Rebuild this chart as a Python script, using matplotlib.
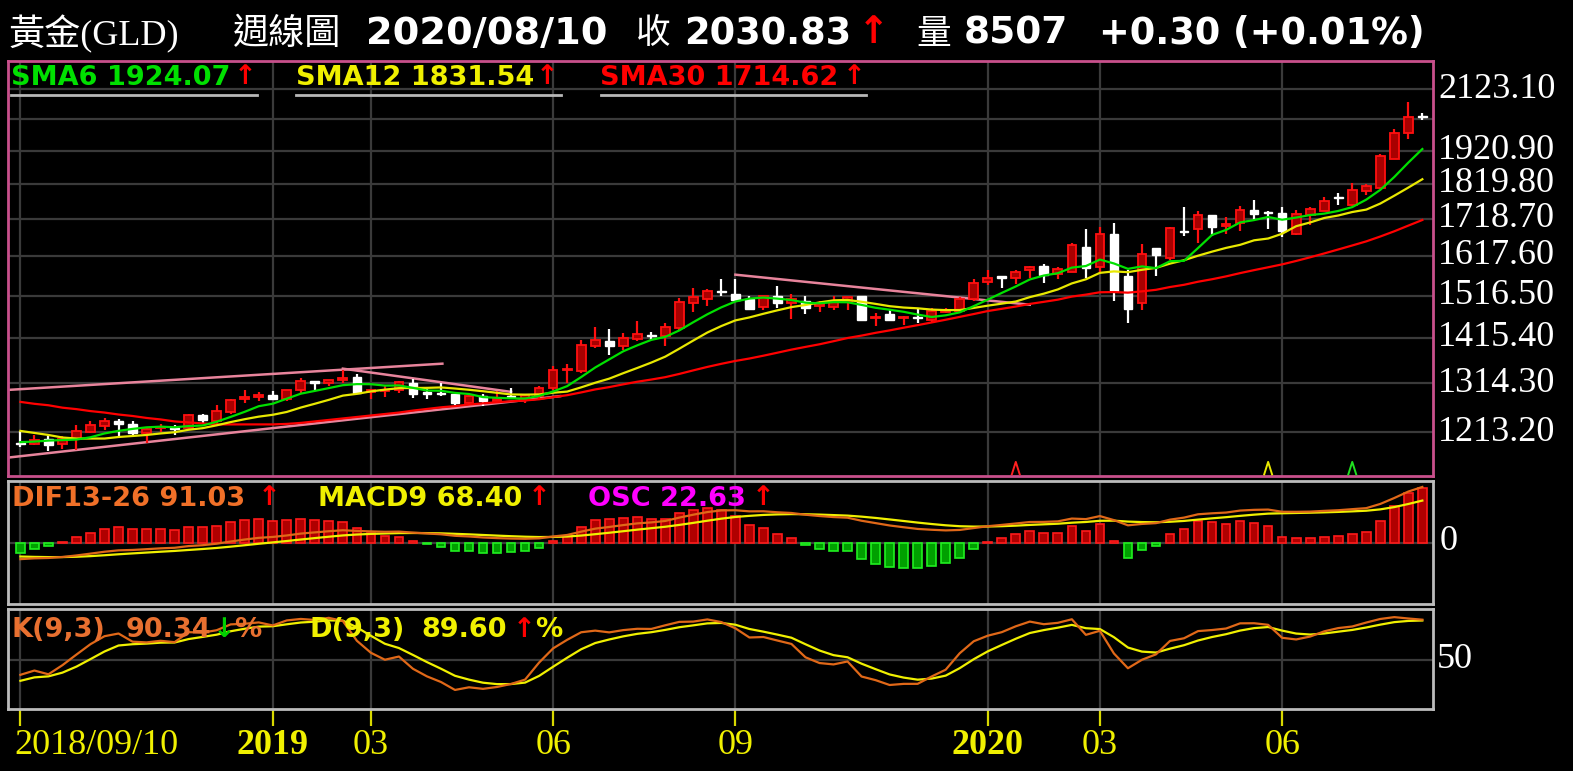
import numpy as np
import pandas as pd
import matplotlib
matplotlib.use("Agg")
import matplotlib.pyplot as plt
from matplotlib.lines import Line2D
from matplotlib.ticker import NullLocator
from matplotlib.transforms import blended_transform_factory as blend

plt.rcParams['font.family'] = ['DejaVu Sans', 'Noto Sans CJK TC']

# ---------------- data (weekly candles, 2018/09/10 .. 2020/08/10) ----------------
opens = [1193, 1191, 1201, 1191, 1201, 1214, 1225, 1235, 1230, 1211,
         1221, 1222, 1221, 1249, 1235, 1255, 1282, 1285, 1289, 1280,
         1301, 1319, 1314, 1322, 1327, 1296, 1297, 1300, 1315, 1295,
         1294, 1291, 1272, 1287, 1277, 1288, 1280, 1287, 1305, 1342,
         1341, 1397, 1409, 1397, 1412, 1423, 1420, 1438, 1497, 1509,
         1529, 1521, 1507, 1489, 1516, 1499, 1502, 1492, 1489, 1502,
         1516, 1462, 1472, 1462, 1465, 1458, 1476, 1478, 1508, 1550,
         1565, 1560, 1582, 1592, 1571, 1577, 1642, 1590, 1676, 1565,
         1499, 1638, 1613, 1686, 1689, 1730, 1700, 1708, 1745, 1737,
         1735, 1677, 1730, 1742, 1781, 1759, 1798, 1808, 1896, 1977,
         2033]
highs = [1215, 1208, 1205, 1206, 1228, 1235, 1242, 1240, 1235, 1221,
         1230, 1228, 1251, 1251, 1268, 1282, 1300, 1296, 1298, 1301,
         1326, 1319, 1322, 1342, 1334, 1303, 1308, 1319, 1324, 1303,
         1314, 1291, 1289, 1291, 1298, 1305, 1291, 1308, 1352, 1357,
         1410, 1441, 1436, 1426, 1454, 1430, 1449, 1511, 1536, 1532,
         1557, 1557, 1516, 1516, 1540, 1521, 1516, 1502, 1516, 1513,
         1516, 1474, 1482, 1466, 1487, 1487, 1487, 1513, 1557, 1582,
         1565, 1580, 1592, 1597, 1588, 1652, 1691, 1697, 1706, 1582,
         1649, 1638, 1697, 1752, 1742, 1730, 1725, 1756, 1772, 1740,
         1752, 1745, 1752, 1782, 1793, 1821, 1818, 1910, 1990, 2078,
         2044]
lows = [1184, 1188, 1177, 1181, 1179, 1211, 1218, 1206, 1204, 1192,
        1214, 1208, 1219, 1232, 1230, 1251, 1273, 1277, 1278, 1277,
        1294, 1301, 1308, 1315, 1291, 1280, 1286, 1294, 1284, 1280,
        1287, 1268, 1270, 1266, 1272, 1280, 1272, 1280, 1301, 1315,
        1336, 1393, 1377, 1388, 1407, 1410, 1397, 1434, 1476, 1490,
        1515, 1502, 1484, 1481, 1486, 1460, 1472, 1476, 1481, 1481,
        1454, 1442, 1456, 1446, 1450, 1450, 1474, 1474, 1502, 1544,
        1536, 1545, 1561, 1547, 1558, 1575, 1561, 1573, 1502, 1450,
        1481, 1565, 1607, 1672, 1653, 1670, 1677, 1686, 1716, 1691,
        1668, 1673, 1701, 1740, 1757, 1755, 1786, 1803, 1895, 1958,
        2020]
closes = [1190, 1199, 1188, 1201, 1216, 1227, 1235, 1230, 1211, 1220,
          1224, 1220, 1249, 1237, 1256, 1279, 1286, 1289, 1280, 1300,
          1319, 1314, 1322, 1326, 1294, 1299, 1301, 1316, 1291, 1292,
          1291, 1272, 1287, 1277, 1282, 1285, 1289, 1305, 1343, 1345,
          1399, 1410, 1397, 1414, 1424, 1420, 1441, 1500, 1513, 1527,
          1525, 1505, 1484, 1515, 1497, 1507, 1486, 1495, 1502, 1513,
          1458, 1465, 1458, 1465, 1462, 1478, 1482, 1508, 1548, 1561,
          1561, 1575, 1588, 1568, 1584, 1647, 1586, 1676, 1527, 1484,
          1622, 1620, 1694, 1682, 1730, 1697, 1704, 1745, 1733, 1734,
          1684, 1733, 1747, 1769, 1778, 1800, 1813, 1904, 1977, 2030.53,
          2030.83]

# moving-average values for weeks whose window reaches before the first candle
sma6_head = [1194, 1195, 1197, 1198, 1199]
sma12_head = [1216, 1212, 1208, 1203, 1201, 1201, 1201, 1204, 1206, 1208, 1211]
sma30_head = [1275, 1271, 1268, 1263, 1260, 1256, 1253, 1249, 1246, 1242,
              1239, 1235, 1233, 1231, 1229, 1229, 1229, 1229, 1229, 1230,
              1232, 1235, 1238, 1241, 1244, 1247, 1250, 1253, 1257]

# carry-in values of the indicators before the first week
ema13_prev, ema26_prev, macd_prev = 1212.0, 1240.0, -22.0
k_prev, d_prev = 44.0, 27.0

# x-axis ticks
tick_idx = [0, 18, 25, 38, 51, 69, 77, 90]
tick_labels = ['2018/09/10', '2019', '03', '06', '09', '2020', '03', '06']
tick_bold = [False, True, False, False, False, True, False, False]

# price grid
price_levels = [1213.2, 1314.3, 1415.4, 1516.5, 1617.6, 1718.7, 1819.8, 1920.9, 2022.0, 2123.1]
price_labels = ['1213.20', '1314.30', '1415.40', '1516.50', '1617.60', '1718.70',
                '1819.80', '1920.90', '', '2123.10']

# pink trend lines (start week, start price, end week, end price)
trend_x0 = [-0.96, -0.96, 23.0, 51.0]
trend_p0 = [1300, 1164, 1346, 1569]
trend_x1 = [30.1, 38.5, 35.0, 72.0]
trend_p1 = [1357, 1287, 1296, 1494]

# signal markers at the foot of the price panel
signal_idx = [71, 89, 95]
signal_colors = ['#ff2020', '#e8e800', '#20e020']

# ---------------- indicators ----------------
c = pd.Series(closes, dtype=float)
o = np.array(opens, dtype=float)
h = np.array(highs, dtype=float)
l = np.array(lows, dtype=float)
cc = c.values
n = len(cc)
idx = np.arange(n)


def sma(period, head):
    s = c.rolling(period).mean().values.copy()
    s[:len(head)] = head
    return s


sma6 = sma(6, sma6_head)
sma12 = sma(12, sma12_head)
sma30 = sma(30, sma30_head)


def ema(values, period, prev):
    a = 2.0 / (period + 1)
    out = []
    for v in values:
        prev = prev + a * (v - prev)
        out.append(prev)
    return np.array(out)


dif = ema(cc, 13, ema13_prev) - ema(cc, 26, ema26_prev)
macd = ema(dif, 9, macd_prev)
osc = dif - macd

hh = pd.Series(h).rolling(9, min_periods=1).max().values
ll = pd.Series(l).rolling(9, min_periods=1).min().values
rsv = (cc - ll) / (hh - ll) * 100
K, D = [], []
kp, dp = k_prev, d_prev
for r in rsv:
    kp = kp * 2 / 3 + r / 3
    dp = dp * 2 / 3 + kp / 3
    K.append(kp)
    D.append(dp)
K = np.array(K)
D = np.array(D)

# ---------------- figure ----------------
W, H = 1573, 771
fig = plt.figure(figsize=(W / 100, H / 100), dpi=100, facecolor='black')
GRID = '#3a3a3a'
XL = (-0.884, 100.76)


def px_axes(x0, y0, x1, y1):
    a = fig.add_axes([x0 / W, 1 - y1 / H, (x1 - x0) / W, (y1 - y0) / H])
    a.set_facecolor('black')
    return a


def clean(a):
    a.tick_params(which='both', left=False, right=False, bottom=False, top=False,
                  labelleft=False, labelright=False, labelbottom=False)
    a.xaxis.set_minor_locator(NullLocator())
    a.yaxis.set_minor_locator(NullLocator())


def ftext(x, y, s, **kw):
    kw.setdefault('va', 'center')
    kw.setdefault('ha', 'left')
    return fig.text(x / W, 1 - y / H, s, **kw)


def fline(x0, x1, y, **kw):
    fig.add_artist(Line2D([x0 / W, x1 / W], [1 - y / H, 1 - y / H],
                          transform=fig.transFigure, **kw))


# ---- title ----
ftext(9, 34, '黃金(GLD)', color='white', fontsize=26,
      family=['Liberation Serif', 'Noto Sans CJK TC'])
ftext(233, 34, '週線圖', color='white', fontsize=26, family=['Noto Sans CJK TC'])
ftext(366, 34, '2020/08/10', color='white', fontsize=27.5, fontweight='bold')
ftext(636, 34, '收', color='white', fontsize=25, family=['Noto Sans CJK TC'])
ftext(684, 34, '2030.83', color='white', fontsize=26.5, fontweight='bold')
ftext(858, 33, '↑', color='#ff0000', fontsize=27, fontweight='bold')
ftext(916, 34, '量', color='white', fontsize=25, family=['Noto Sans CJK TC'])
ftext(964, 34, '8507', color='white', fontsize=27, fontweight='bold')
ftext(1099, 34, '+0.30 (+0.01%)', color='white', fontsize=26.5, fontweight='bold')

# ---- price panel ----
ax = px_axes(8, 61, 1433, 476)
ax.set_yscale('log')
ax.set_xlim(*XL)
ax.set_ylim(1129.8, 2223.3)
clean(ax)
for p in price_levels:
    ax.axhline(p, color=GRID, lw=1.6, zorder=0)
for t in tick_idx:
    ax.axvline(t, color=GRID, lw=1.6, zorder=0)
for sp in ax.spines.values():
    sp.set_color('#c8508c')
    sp.set_linewidth(2)

tr = blend(ax.transAxes, ax.transData)
for p, lab in zip(price_levels, price_labels):
    if lab:
        ax.text(1 + 5 / 1425, p, lab, transform=tr, color='white', fontsize=26,
                family='Liberation Serif', va='center', ha='left')

for x0, p0, x1, p1 in zip(trend_x0, trend_p0, trend_x1, trend_p1):
    ax.plot([x0, x1], [p0, p1], color='#e8849c', lw=1.8, zorder=2)

up = cc >= o
bw = 0.62
ax.vlines(idx[up], l[up], h[up], color='#ff1010', lw=1.6, zorder=3)
ax.vlines(idx[~up], l[~up], h[~up], color='white', lw=1.6, zorder=3)
ax.bar(idx[up], np.maximum(cc[up] - o[up], 1.5), bottom=o[up], width=bw,
       color='#a80000', edgecolor='#ff1010', lw=1.3, zorder=4)
ax.bar(idx[~up], np.maximum(o[~up] - cc[~up], 1.5), bottom=cc[~up], width=bw,
       color='white', edgecolor='white', lw=1.0, zorder=4)

ax.plot(idx, sma30, color='#ff0000', lw=1.6, zorder=5)
ax.plot(idx, sma12, color='#e8e800', lw=1.6, zorder=5)
ax.plot(idx, sma6, color='#00e000', lw=1.6, zorder=5)

sig_tr = blend(ax.transData, ax.transAxes)
for si, sc in zip(signal_idx, signal_colors):
    ax.plot([si - 0.28, si, si + 0.28], [0.004, 0.034, 0.004], transform=sig_tr,
            color=sc, lw=1.4, zorder=6)

# legend of price panel
LF = 19.5
ftext(11, 78, 'SMA6 1924.07', color='#00e000', fontsize=LF, fontweight='bold')
ftext(234, 77, '↑', color='#ff0000', fontsize=LF, fontweight='bold')
ftext(296, 78, 'SMA12 1831.54', color='#f0f000', fontsize=LF, fontweight='bold')
ftext(536, 77, '↑', color='#ff0000', fontsize=LF, fontweight='bold')
ftext(600, 78, 'SMA30 1714.62', color='#ff0000', fontsize=LF, fontweight='bold')
ftext(843, 77, '↑', color='#ff0000', fontsize=LF, fontweight='bold')
fline(11, 257, 94.5, color='#b8b8b8', lw=2)
fline(296, 561, 94.5, color='#b8b8b8', lw=2)
fline(601, 866, 94.5, color='#b8b8b8', lw=2)

# ---- MACD panel ----
axm = px_axes(8, 481, 1433, 604)
axm.set_xlim(*XL)
axm.set_ylim(-25.3, 25.5)
clean(axm)
for sp in axm.spines.values():
    sp.set_color('#bcbcbc')
    sp.set_linewidth(2)
axm.axhline(0, color=GRID, lw=1.6, zorder=0)
for t in tick_idx:
    axm.axvline(t, color=GRID, lw=1.6, zorder=0)
pos = osc >= 0
axm.bar(idx[pos], osc[pos], width=bw, color='#b00000', edgecolor='#ff1a1a', lw=1.2, zorder=2)
axm.bar(idx[~pos], osc[~pos], width=bw, color='#00a000', edgecolor='#20f020', lw=1.2, zorder=2)
axm2 = axm.twinx()
axm2.set_ylim(-102.2, 102.8)
clean(axm2)
for sp in axm2.spines.values():
    sp.set_visible(False)
axm2.plot(idx, macd, color='#f0f000', lw=1.6, zorder=3)
axm2.plot(idx, dif, color='#e06818', lw=1.6, zorder=3)

ftext(1440, 542, '0', color='white', fontsize=26, family='Liberation Serif')
ftext(12, 499, 'DIF13-26 91.03', color='#f07028', fontsize=LF, fontweight='bold')
ftext(258, 498, '↑', color='#ff0000', fontsize=LF, fontweight='bold')
ftext(318, 499, 'MACD9 68.40', color='#f0f000', fontsize=LF, fontweight='bold')
ftext(528, 498, '↑', color='#ff0000', fontsize=LF, fontweight='bold')
ftext(588, 499, 'OSC 22.63', color='#ff00ff', fontsize=LF, fontweight='bold')
ftext(752, 498, '↑', color='#ff0000', fontsize=LF, fontweight='bold')

# ---- KD panel ----
axk = px_axes(8, 609, 1433, 709)
axk.set_xlim(*XL)
axk.set_ylim(2.3, 100.3)
clean(axk)
for sp in axk.spines.values():
    sp.set_color('#bcbcbc')
    sp.set_linewidth(2)
axk.axhline(50, color=GRID, lw=1.6, zorder=0)
for t in tick_idx:
    axk.axvline(t, color=GRID, lw=1.6, zorder=0)

ftext(1437, 659, '50', color='white', fontsize=26, family='Liberation Serif')
ftext(12, 630, 'K(9,3)', color='#e87030', fontsize=LF, fontweight='bold')
ftext(126, 630, '90.34', color='#e87030', fontsize=LF, fontweight='bold')
ftext(213, 630, '↓', color='#00d000', fontsize=LF, fontweight='bold')
ftext(234, 630, '%', color='#e87030', fontsize=LF, fontweight='bold')
ftext(310, 630, 'D(9,3)', color='#f0f000', fontsize=LF, fontweight='bold')
ftext(421, 630, '89.60', color='#f0f000', fontsize=LF, fontweight='bold')
ftext(513, 630, '↑', color='#ff0000', fontsize=LF, fontweight='bold')
ftext(535, 630, '%', color='#f0f000', fontsize=LF, fontweight='bold')

axk.plot(idx, D, color='#f0f000', lw=1.6, zorder=3)
axk.plot(idx, K, color='#e06818', lw=1.6, zorder=3)

# ---- date axis ----
ttr = blend(axk.transData, axk.transAxes)
axk.vlines(tick_idx, -0.17, -0.01, transform=ttr, color='#d8d800', lw=1.6, clip_on=False)
ltr = blend(axk.transData, fig.transFigure)
for t, lab, b in zip(tick_idx, tick_labels, tick_bold):
    ha = 'left' if t == tick_idx[0] else 'center'
    xx = t - 0.4 if ha == 'left' else t
    fig.text(xx, 1 - 745 / H, lab, transform=ltr, color='#f0f000', fontsize=26,
             family='Liberation Serif', fontweight='bold' if b else 'normal',
             ha=ha, va='center')

fig.savefig('out.png', dpi=100, facecolor='black')
